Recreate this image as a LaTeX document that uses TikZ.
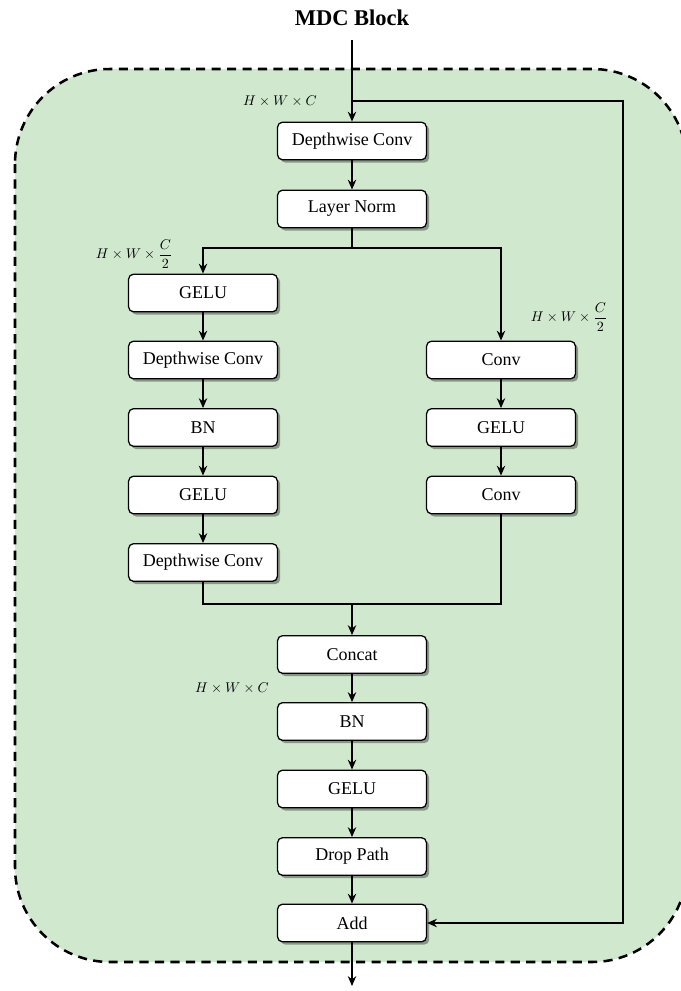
\documentclass[tikz,border=0pt]{standalone}
\usepackage{fontspec}
\setmainfont{Liberation Serif}
\usetikzlibrary{arrows.meta,shadows}
\definecolor{bggreen}{RGB}{208,233,206}
\begin{document}
\begin{tikzpicture}[x=0.025cm,y=-0.025cm,
  blk/.style={draw=black,line width=0.9pt,fill=white,rounded corners=3.5pt,
    minimum width=3.72cm,minimum height=0.94cm,inner sep=0pt,
    font=\fontsize{12.8}{15}\selectfont,
    drop shadow={shadow xshift=2pt,shadow yshift=-2pt,fill=black,opacity=0.35}},
  conn/.style={line width=0.9pt,draw=black},
  arr/.style={conn,-{Stealth[length=7pt,width=6pt]}},
  dimlbl/.style={font=\fontsize{10}{12}\selectfont,inner sep=0pt}]
\useasboundingbox (0,0) rectangle (681,991);
\clip (0,0) rectangle (681,991);
\fill[bggreen,rounded corners=2.375cm] (15,69) rectangle (687,962);
\draw[line width=1.8pt,dash pattern=on 6.5pt off 4.5pt,rounded corners=2.375cm] (15,69) rectangle (687,962);

\node[font=\bfseries\fontsize{16}{18}\selectfont] (title) at (352,18) {MDC Block};
\coordinate (in) at (352,40);

\node[blk] (dw1) at (352,141) {Depthwise Conv};
\node[blk] (ln) at (352,209) {Layer Norm};

\node[blk] (g1) at (203,293) {GELU};
\node[blk] (dw2) at (203,360) {Depthwise Conv};
\node[blk] (bn1) at (203,427.5) {BN};
\node[blk] (g2) at (203,495) {GELU};
\node[blk] (dw3) at (203,562.5) {Depthwise Conv};

\node[blk] (c1) at (501,360) {Conv};
\node[blk] (g3) at (501,427.5) {GELU};
\node[blk] (c2) at (501,495) {Conv};

\node[blk] (cat) at (352,654.5) {Concat};
\node[blk] (bn2) at (352,721.5) {BN};
\node[blk] (g4) at (352,789) {GELU};
\node[blk] (dp) at (352,856.5) {Drop Path};
\node[blk] (add) at (352,923) {Add};
\coordinate (out) at (352,986);

\coordinate (skip) at (352,101);
\coordinate (split) at (352,248);
\coordinate (merge) at (352,604);

\draw[arr] (in) -- (dw1);
\draw[arr] (dw1) -- (ln);
\draw[conn] (ln) -- (split);
\draw[arr] (split) -| (g1);
\draw[arr] (split) -| (c1);
\draw[arr] (g1) -- (dw2);
\draw[arr] (dw2) -- (bn1);
\draw[arr] (bn1) -- (g2);
\draw[arr] (g2) -- (dw3);
\draw[arr] (c1) -- (g3);
\draw[arr] (g3) -- (c2);
\draw[conn] (dw3) |- (merge);
\draw[conn] (c2) |- (merge);
\draw[arr] (merge) -- (cat);
\draw[arr] (cat) -- (bn2);
\draw[arr] (bn2) -- (g4);
\draw[arr] (g4) -- (dp);
\draw[arr] (dp) -- (add);
\draw[arr] (add) -- (out);
\draw[arr] (skip) -- (623,101) |- (add);

\node[dimlbl,anchor=east] (l1) at (317,101) {$H\times W\times C$};
\node[dimlbl,anchor=east] (l2) at (173,254) {$H\times W\times \displaystyle\frac{C}{2}$};
\node[dimlbl,anchor=east] (l3) at (608,317) {$H\times W\times \displaystyle\frac{C}{2}$};
\node[dimlbl,anchor=east] (l4) at (269,688) {$H\times W\times C$};
\end{tikzpicture}
\end{document}
